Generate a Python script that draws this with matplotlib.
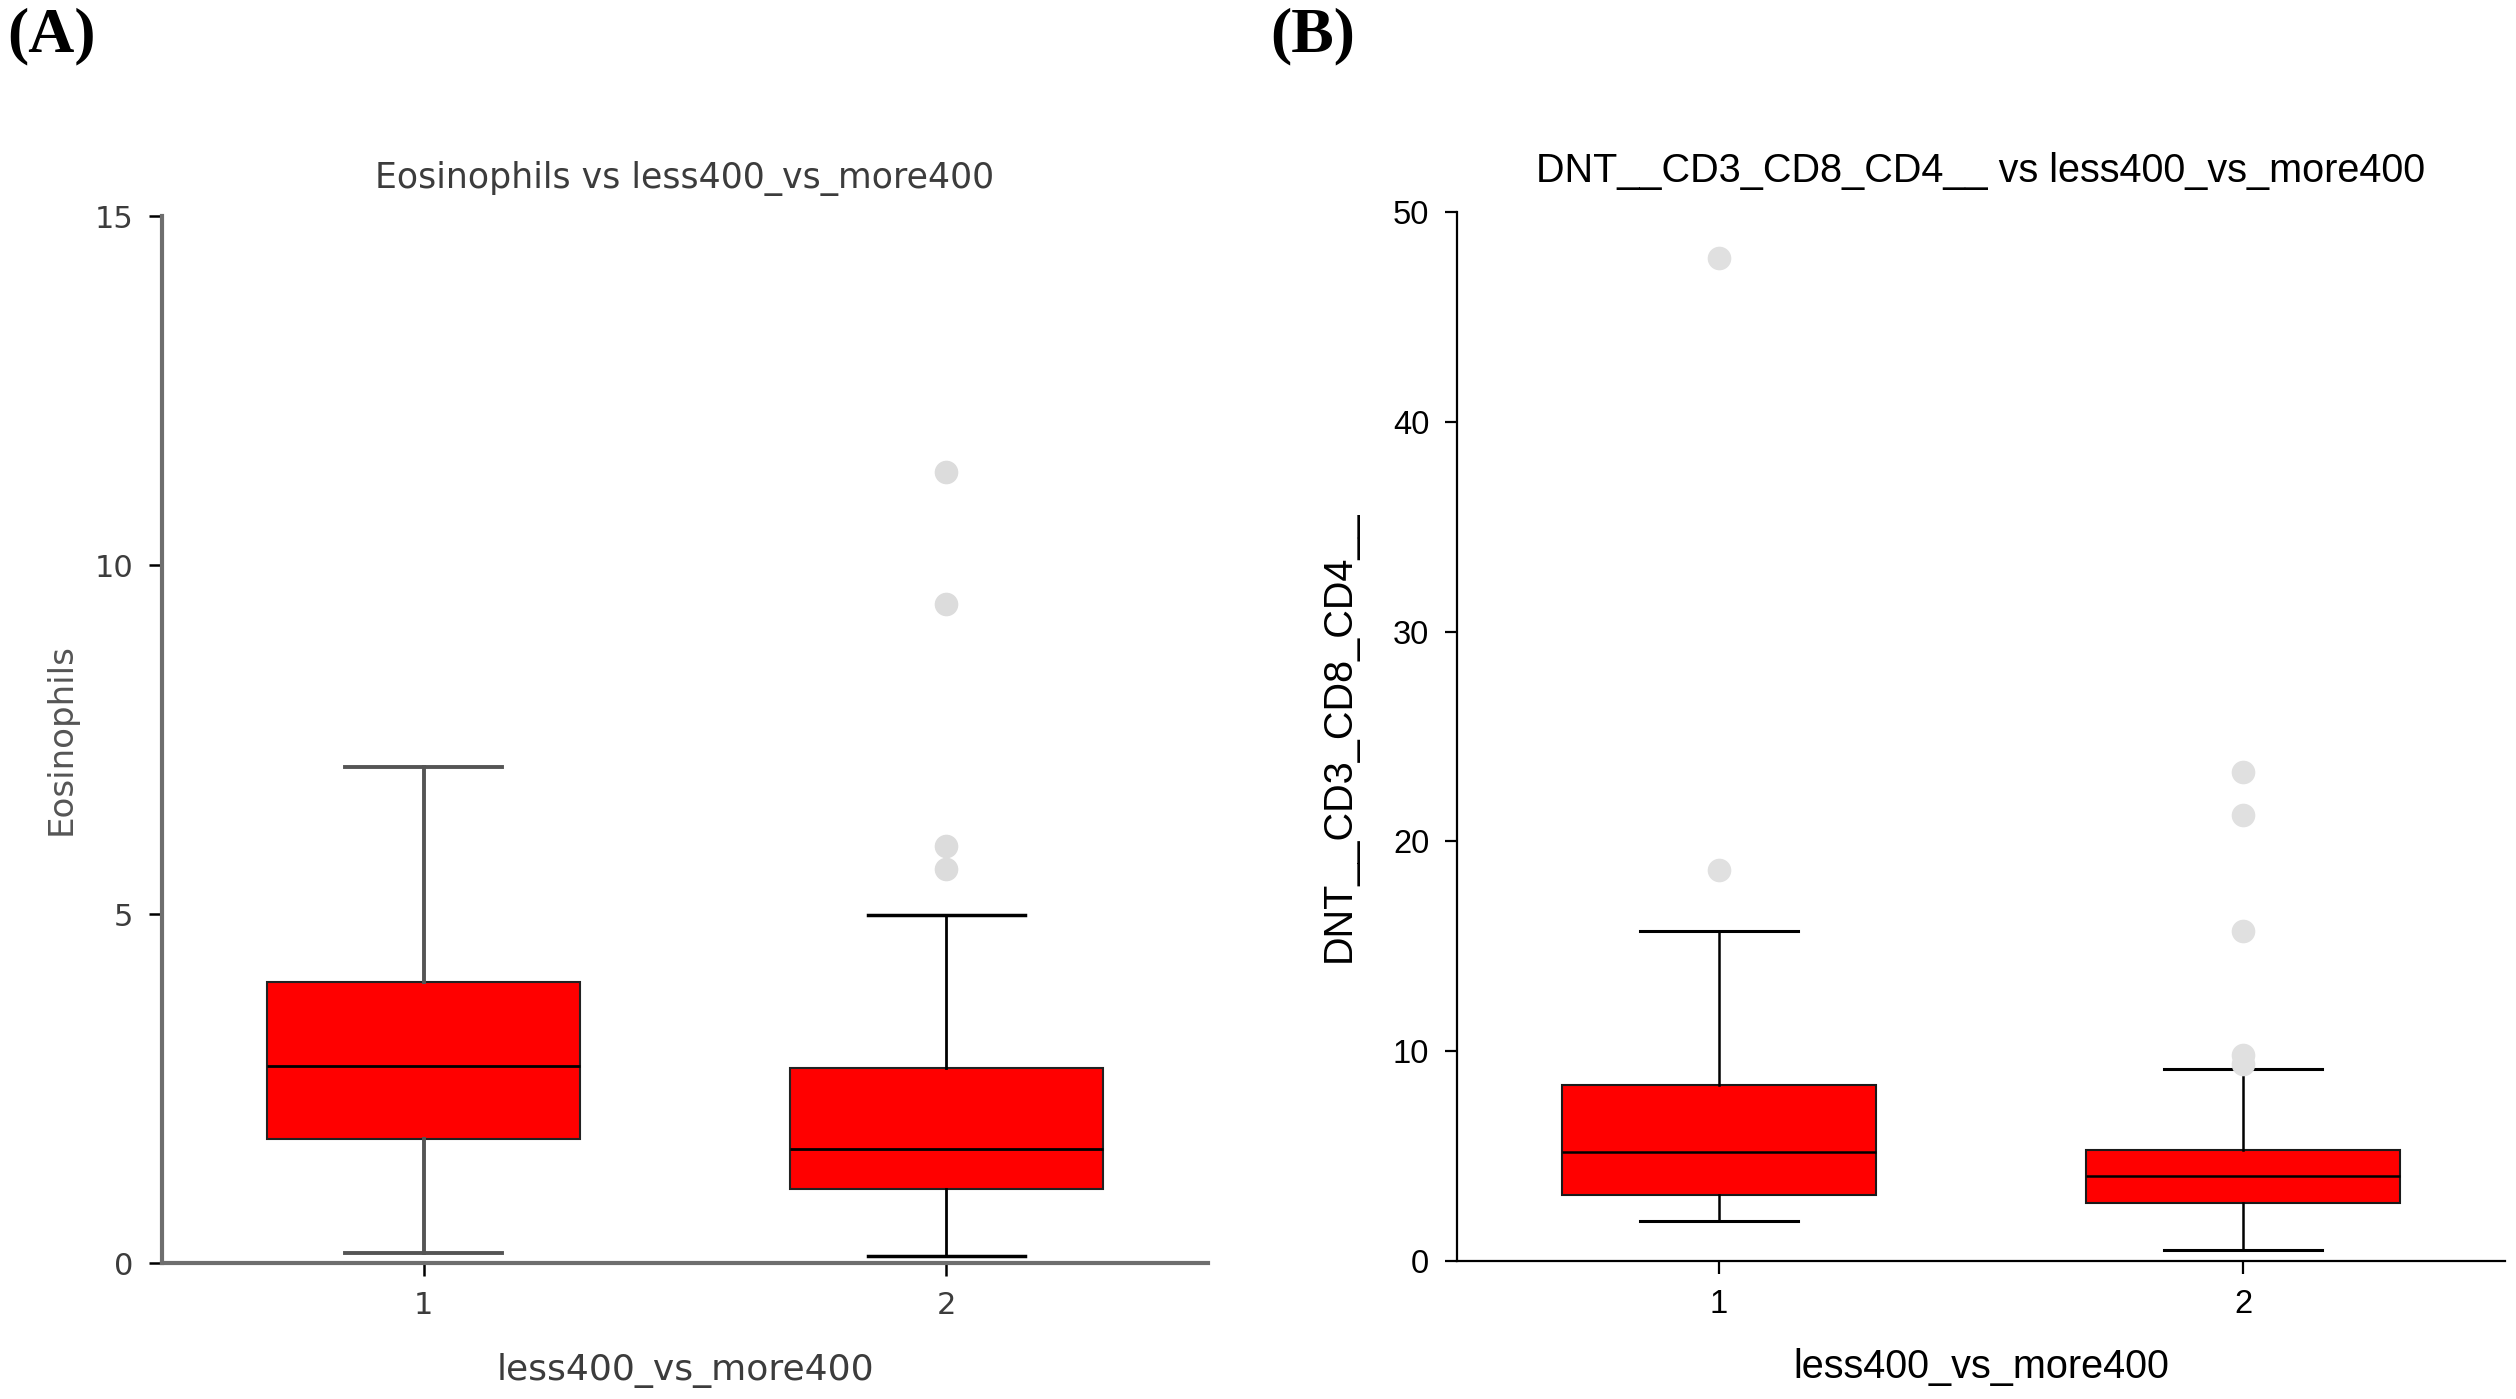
import matplotlib
matplotlib.use("Agg")
import matplotlib.pyplot as plt

# data (box stats: whisker low, q1, median, q3, whisker high)
groups = ["1", "2"]

eos_whislo = [0.15, 0.10]
eos_q1 = [1.77, 1.06]
eos_med = [2.82, 1.63]
eos_q3 = [4.03, 2.80]
eos_whishi = [7.10, 4.98]
eos_fliers = [[], [11.33, 9.44, 5.97, 5.65]]

dnt_whislo = [1.9, 0.55]
dnt_q1 = [3.13, 2.75]
dnt_med = [5.2, 4.05]
dnt_q3 = [8.41, 5.28]
dnt_whishi = [15.75, 9.17]
dnt_fliers = [[47.8, 18.65], [23.3, 21.25, 15.75, 9.8, 9.4]]


def make_stats(lo, q1, med, q3, hi, fl):
    stats = []
    for i in range(len(groups)):
        stats.append(dict(whislo=lo[i], q1=q1[i], med=med[i], q3=q3[i],
                          whishi=hi[i], fliers=fl[i], label=groups[i]))
    return stats


fig = plt.figure(figsize=(25.16, 13.99), dpi=100)

#%% Panel A
axA = fig.add_axes([0.0644, 0.0972, 0.4157, 0.7484])
txtA = "#3c3c3c"
fontA = "DejaVu Sans"
bpA = axA.bxp(make_stats(eos_whislo, eos_q1, eos_med, eos_q3, eos_whishi, eos_fliers),
              positions=[1, 2], widths=0.6, patch_artist=True, manage_ticks=False,
              boxprops=dict(facecolor="#ff0000", edgecolor="#222222", linewidth=1.5),
              medianprops=dict(color="black", linewidth=2),
              whiskerprops=dict(color="black", linewidth=2),
              capprops=dict(color="black", linewidth=2.5),
              flierprops=dict(marker="o", markersize=16, markerfacecolor="#dcdcdc",
                              markeredgecolor="#dcdcdc"))
# first group's whiskers look greyer in the original
for ln in bpA["whiskers"][:2] + bpA["caps"][:2]:
    ln.set_color("#555555")
    ln.set_linewidth(2.8)

axA.set_xlim(0.5, 2.5)
axA.set_ylim(0, 15)
axA.set_xticks([1, 2])
axA.set_xticklabels(groups)
axA.set_yticks([0, 5, 10, 15])
axA.spines["top"].set_visible(False)
axA.spines["right"].set_visible(False)
for s in ["left", "bottom"]:
    axA.spines[s].set_color("#6e6e6e")
    axA.spines[s].set_linewidth(3)
axA.tick_params(axis="both", length=9.5, width=1.8, color="black", pad=11,
                labelsize=22, labelcolor=txtA)
for t in axA.get_xticklabels() + axA.get_yticklabels():
    t.set_family(fontA)
axA.set_title("Eosinophils vs less400_vs_more400", fontsize=25, color=txtA,
              family=fontA, pad=20)
axA.set_xlabel("less400_vs_more400", fontsize=26, color=txtA, family=fontA)
axA.set_ylabel("Eosinophils", fontsize=24.5, color="#555555", family=fontA)
axA.xaxis.set_label_coords(0.5, -0.086)
axA.yaxis.set_label_coords(-0.081, 0.5)

#%% Panel B
axB = fig.add_axes([0.5791, 0.0986, 0.4165, 0.7498])
fontB = "Liberation Sans"
axB.bxp(make_stats(dnt_whislo, dnt_q1, dnt_med, dnt_q3, dnt_whishi, dnt_fliers),
        positions=[1, 2], widths=0.6, patch_artist=True, manage_ticks=False,
        boxprops=dict(facecolor="#ff0000", edgecolor="#1a1a1a", linewidth=1.5),
        medianprops=dict(color="black", linewidth=1.8),
        whiskerprops=dict(color="black", linewidth=1.8),
        capprops=dict(color="black", linewidth=2.2),
        flierprops=dict(marker="o", markersize=16, markerfacecolor="#e0e0e0",
                        markeredgecolor="#e0e0e0"))
axB.set_xlim(0.5, 2.5)
axB.set_ylim(0, 50)
axB.set_xticks([1, 2])
axB.set_xticklabels(groups)
axB.set_yticks([0, 10, 20, 30, 40, 50])
axB.spines["top"].set_visible(False)
axB.spines["right"].set_visible(False)
for s in ["left", "bottom"]:
    axB.spines[s].set_color("black")
    axB.spines[s].set_linewidth(1.6)
axB.tick_params(axis="both", length=9, width=1.6, color="black", pad=11,
                labelsize=23.5, labelcolor="black")
for t in axB.get_xticklabels() + axB.get_yticklabels():
    t.set_family(fontB)
axB.set_title("DNT__CD3_CD8_CD4__ vs less400_vs_more400", fontsize=28.5,
              family=fontB, pad=22)
axB.set_xlabel("less400_vs_more400", fontsize=28.5, family=fontB)
axB.set_ylabel("DNT__CD3_CD8_CD4__", fontsize=28.5, family=fontB)
axB.xaxis.set_label_coords(0.5, -0.083)
axB.yaxis.set_label_coords(-0.095, 0.5)

#%% panel letters
fig.text(0.003, 0.974, "(A)", fontsize=46, fontweight="bold",
         family="Liberation Serif", va="center", ha="left")
fig.text(0.505, 0.974, "(B)", fontsize=46, fontweight="bold",
         family="Liberation Serif", va="center", ha="left")

fig.savefig("out.png", dpi=100)
